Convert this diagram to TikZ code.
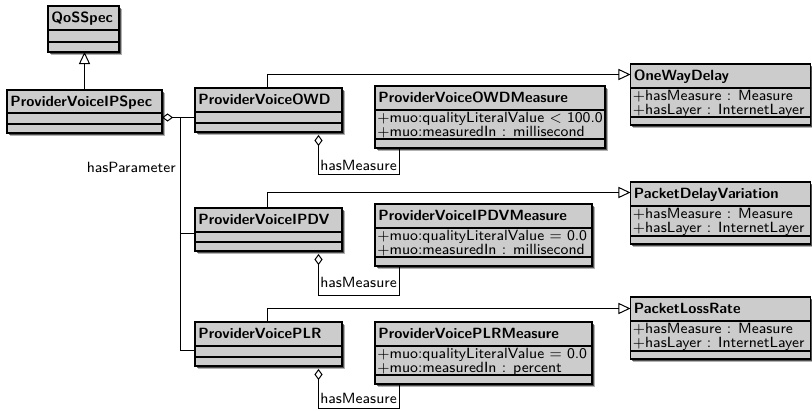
\documentclass[tikz,border=0pt]{standalone}
\usetikzlibrary{arrows.meta,shadows}

% class box: name, x1, y1, x2, y2, first separator, second separator, title
\newcommand\umlclass[8]{%
  \node[clsbox, anchor=north west, minimum width={((#4)-(#2))*0.5405}, minimum height={((#5)-(#3))*0.5405}] (#1) at (#2,#3) {};
  \draw[sepline] (#2,#6) -- (#4,#6) (#2,#7) -- (#4,#7);
  \node[clstitle] (#1-title) at ({#2+3},{(#3+#6)/2+5}) {#8};
}
% attribute compartment with two lines: name, x1, first separator, line 1, line 2
\newcommand\umlattrs[5]{%
  \node[attr] (#1-attrs) at ({#2+2},{#3+12.5}) {\begin{tabular}[t]{@{}l@{}}#4\\#5\end{tabular}};
}

\begin{document}
\begin{tikzpicture}[x=0.5405pt,y=-0.5405pt,
  clsbox/.style={draw=black, line width=0.9pt, fill=black!20, inner sep=0pt, outer sep=0pt,
    drop shadow={shadow xshift=1.5pt, shadow yshift=-1.5pt, opacity=0.3, fill=black},
    drop shadow={shadow xshift=1pt, shadow yshift=-1pt, opacity=0.55, fill=black}},
  sepline/.style={line width=0.65pt},
  clstitle/.style={font=\fontsize{8}{9.6}\selectfont\sffamily\bfseries, inner sep=0pt, anchor=base west},
  attr/.style={font=\fontsize{8}{6.76}\selectfont\sffamily, inner sep=0pt, anchor=base west},
  lbl/.style={font=\fontsize{8}{9.6}\selectfont\sffamily, inner sep=0pt},
  conn/.style={line width=0.54pt, draw=black},
  gen/.style={conn, -{Triangle[open, length=6.5pt, width=6pt]}},
  agg/.style={conn, {Diamond[open, length=6pt, width=4.4pt]}-},
]
\useasboundingbox (0,0) rectangle (812,411);

% classes
\umlclass{qos}{48}{6}{119}{52}{30}{42}{QoSSpec}
\umlclass{ipspec}{7}{90}{162}{133}{113}{124}{ProviderVoiceIPSpec}

\umlclass{owd}{195}{88}{342}{132}{112}{123}{ProviderVoiceOWD}
\umlclass{ipdv}{195}{208}{342}{251}{232}{242}{ProviderVoiceIPDV}
\umlclass{plr}{195}{322}{342}{366}{346}{357}{ProviderVoicePLR}

\umlclass{owdm}{375}{86}{605}{148}{110}{139}{ProviderVoiceOWDMeasure}
\umlattrs{owdm}{375}{110}{$+$muo:qualityLiteralValue $<$ 100.0}{$+$muo:measuredIn : millisecond}
\umlclass{ipdvm}{375}{204}{592}{266}{228}{257}{ProviderVoiceIPDVMeasure}
\umlattrs{ipdvm}{375}{228}{$+$muo:qualityLiteralValue $=$ 0.0}{$+$muo:measuredIn : millisecond}
\umlclass{plrm}{375}{322}{592}{384}{346}{375}{ProviderVoicePLRMeasure}
\umlattrs{plrm}{375}{346}{$+$muo:qualityLiteralValue $=$ 0.0}{$+$muo:measuredIn : percent}

\umlclass{owdsup}{630.5}{64}{810.5}{125}{88}{117}{OneWayDelay}
\umlattrs{owdsup}{630.5}{88}{$+$hasMeasure : Measure}{$+$hasLayer : InternetLayer}
\umlclass{pdv}{630.5}{182}{810.5}{244}{206}{236}{PacketDelayVariation}
\umlattrs{pdv}{630.5}{206}{$+$hasMeasure : Measure}{$+$hasLayer : InternetLayer}
\umlclass{plrsup}{630.5}{297}{810.5}{359}{321}{351}{PacketLossRate}
\umlattrs{plrsup}{630.5}{321}{$+$hasMeasure : Measure}{$+$hasLayer : InternetLayer}

% inheritance
\draw[gen] (ipspec.north) -- (ipspec.north |- qos.south);

\coordinate (g1) at (267.5,74.5);
\coordinate (g2) at (267.5,192.5);
\coordinate (g3) at (267.5,308.5);
\draw[gen] (g1 |- owd.north) -- (g1) -- (g1 -| owdsup.west);
\draw[gen] (g2 |- ipdv.north) -- (g2) -- (g2 -| pdv.west);
\draw[gen] (g3 |- plr.north) -- (g3) -- (g3 -| plrsup.west);

% hasParameter aggregation
\coordinate (j1) at (180.5,117.5);
\coordinate (j2) at (180.5,233.5);
\coordinate (j3) at (180.5,350.5);
\draw[agg] (ipspec.east |- j1) -- (j1 -| owd.west);
\draw[conn] (j1) -- (j3) -- (j3 -| plr.west);
\draw[conn] (j2) -- (j2 -| ipdv.west);
\node[lbl, anchor=east] (hp) at (176,167) {hasParameter};

% hasMeasure aggregations
\coordinate (m1) at (318.5,174.5);
\coordinate (m2) at (318.5,295.5);
\coordinate (m3) at (318.5,408.5);
\draw[agg] ([yshift=-1.6pt]owd.south -| m1) -- (m1) -- (m1 -| 399.5,0) -- (399.5,0 |- owdm.south);
\draw[agg] ([yshift=-1.6pt]ipdv.south -| m2) -- (m2) -- (m2 -| 399.5,0) -- (399.5,0 |- ipdvm.south);
\draw[agg] ([yshift=-1.6pt]plr.south -| m3) -- (m3) -- (m3 -| 399.5,0) -- (399.5,0 |- plrm.south);
\node[lbl] (hm1) at (358.5,165) {hasMeasure};
\node[lbl] (hm2) at (358.5,282) {hasMeasure};
\node[lbl] (hm3) at (358.5,398) {hasMeasure};
\end{tikzpicture}
\end{document}
